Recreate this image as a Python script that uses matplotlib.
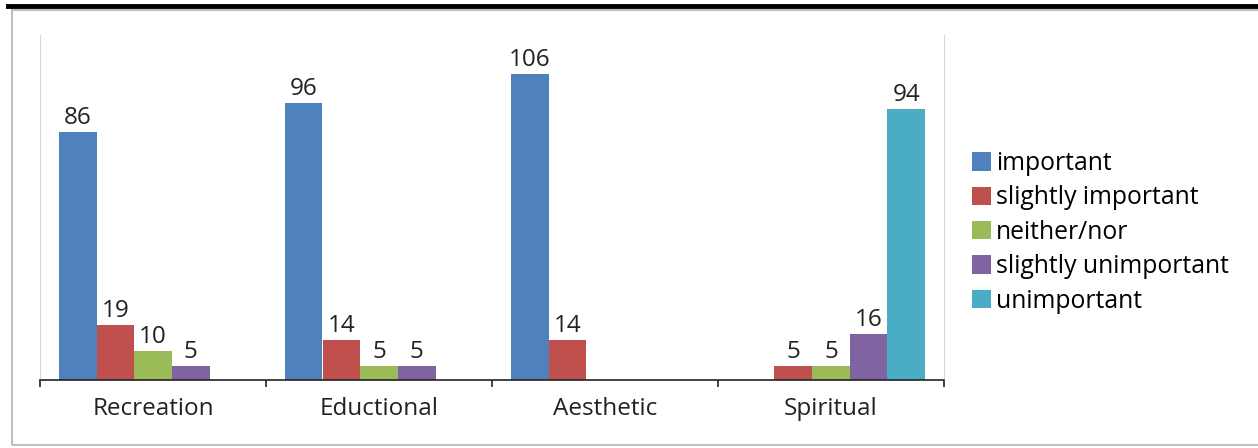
import matplotlib.pyplot as plt
import numpy as np
from matplotlib.patches import Rectangle
from matplotlib.lines import Line2D

categories = ['Recreation', 'Eductional', 'Aesthetic', 'Spiritual']
series = ['important', 'slightly important', 'neither/nor',
          'slightly unimportant', 'unimportant']
important = [86, 96, 106, 0]
slightly_important = [19, 14, 14, 5]
neither_nor = [10, 5, 0, 5]
slightly_unimportant = [5, 5, 0, 16]
unimportant = [0, 0, 0, 94]

values = [important, slightly_important, neither_nor, slightly_unimportant, unimportant]
colors = ['#4F81BD', '#C0504D', '#9BBB59', '#8064A2', '#4BACC6']

plt.rcParams['font.family'] = ['Open Sans', 'DejaVu Sans']
fs = 17.5

fig = plt.figure(figsize=(12.58, 4.48), dpi=100)

# outer chart frame and the heavy rule above it
fig.add_artist(Rectangle((12 / 1258, 3 / 448), 1.0, 435 / 448, transform=fig.transFigure,
                         fill=False, edgecolor='#BFBFBF', linewidth=1.5))
fig.add_artist(Line2D([8 / 1258, 1.0], [1 - 6 / 448, 1 - 6 / 448], transform=fig.transFigure,
                      color='black', linewidth=3.5))

ax = fig.add_axes([40 / 1258, 1 - 380 / 448, 904 / 1258, 345 / 448])

x = np.arange(len(categories))
w = 1 / 6
for i, (name, vals, c) in enumerate(zip(series, values, colors)):
    pos = x - 2 * w + i * w
    bars = ax.bar(pos, vals, width=w, color=c, label=name, edgecolor='none')
    for b, v in zip(bars, vals):
        if v:
            ax.text(b.get_x() + b.get_width() / 2, v + 0.6, str(v), ha='center', va='bottom',
                    fontsize=fs, color='#222222')

ax.set_xlim(-0.5, len(categories) - 0.5)
ax.set_ylim(0, 119.5)
ax.set_yticks([])
ax.set_xticks([])
ax.set_xticks(np.arange(len(categories) + 1) - 0.5, minor=True)
ax.tick_params(axis='x', which='minor', length=5, width=1.2, direction='out', color='#222222')
for i, cat in enumerate(categories):
    ax.text(i, -6, cat, ha='center', va='top', fontsize=fs, color='#222222')

ax.spines['top'].set_visible(False)
ax.spines['left'].set_color('#D9D9D9')
ax.spines['right'].set_color('#D9D9D9')
ax.spines['bottom'].set_color('#222222')
ax.spines['bottom'].set_linewidth(1.2)

fig.legend(loc='upper left', bbox_to_anchor=(972 / 1258, 1 - 151 / 448), frameon=False,
           fontsize=fs + 0.3, handlelength=0.76, handleheight=0.76, handletextpad=0.2,
           labelspacing=0.38, borderaxespad=0, borderpad=0)

fig.savefig('out.png', dpi=100)
